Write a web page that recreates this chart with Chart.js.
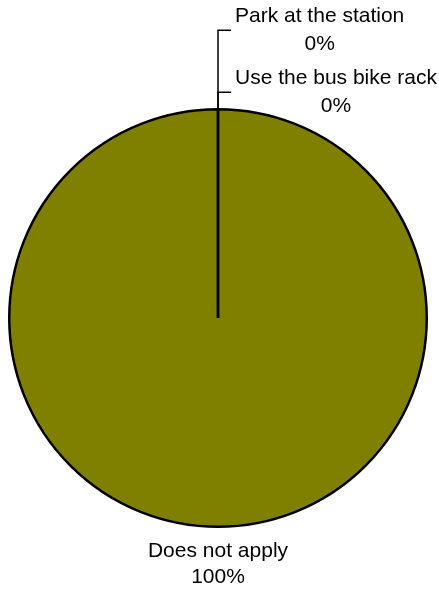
<!DOCTYPE html>
<html>
<head>
<meta charset="utf-8">
<script src="https://cdn.jsdelivr.net/npm/chart.js@4"></script>
<style>
  html, body { margin: 0; padding: 0; background: #fff; }
  #wrap { width: 439px; height: 592px; }
</style>
</head>
<body>
<div id="wrap"><canvas id="myChart" width="439" height="592"></canvas></div>
<script>
// data
var categories = ['Park at the station', 'Use the bus bike rack', 'Does not apply'];
var values = [0, 0, 100];
var pctLabels = ['0%', '0%', '100%'];

var FONT = '21px "Liberation Sans", Arial, sans-serif';

// labels with leader lines, drawn off the arc geometry
var pieLabels = {
  id: 'pieLabels',
  afterDatasetsDraw: function(chart) {
    var ctx = chart.ctx;
    var arcs = chart.getDatasetMeta(0).data;
    var zeros = [];
    arcs.forEach(function(a, i) { if (values[i] === 0) zeros.push(i); });

    ctx.save();
    ctx.font = FONT;
    ctx.fillStyle = '#000';
    ctx.strokeStyle = '#000';
    ctx.lineWidth = 1.5;

    // radial line where the empty slices sit
    if (zeros.length) {
      var a0 = arcs[zeros[0]];
      ctx.beginPath();
      ctx.moveTo(a0.x, a0.y);
      ctx.lineTo(a0.x + a0.outerRadius * Math.cos(a0.startAngle), a0.y + a0.outerRadius * Math.sin(a0.startAngle));
      ctx.lineWidth = 2.5;
      ctx.stroke();
      ctx.lineWidth = 1.5;
    }

    arcs.forEach(function(a, i) {
      var mid = (a.startAngle + a.endAngle) / 2;
      var px = a.x + a.outerRadius * Math.cos(mid);
      var py = a.y + a.outerRadius * Math.sin(mid);
      if (values[i] === 0) {
        var k = zeros.indexOf(i);
        var ly = py - 17 - (zeros.length - 1 - k) * 62;
        ctx.beginPath();
        ctx.moveTo(px, py);
        ctx.lineTo(px, ly);
        ctx.lineTo(px + 13, ly);
        ctx.stroke();
        var w = Math.max(ctx.measureText(categories[i]).width, ctx.measureText(pctLabels[i]).width);
        var cx = px + 17 + w / 2;
        ctx.textAlign = 'center';
        ctx.fillText(categories[i], cx, ly - 8);
        ctx.fillText(pctLabels[i], cx, ly + 20);
      } else {
        ctx.textAlign = 'center';
        ctx.fillText(categories[i], px, py + 30);
        ctx.fillText(pctLabels[i], px, py + 56);
      }
    });
    ctx.restore();
  }
};

var ctx = document.getElementById('myChart').getContext('2d');
var chart = new Chart(ctx, {
  type: 'pie',
  data: {
    labels: categories,
    datasets: [{
      data: values,
      backgroundColor: '#808000',
      borderColor: '#000',
      borderWidth: 2.5
    }]
  },
  options: {
    responsive: false,
    animation: false,
    layout: { padding: { left: 8, right: 11, top: 107, bottom: 63 } },
    plugins: {
      legend: { display: false },
      tooltip: { enabled: false }
    }
  },
  plugins: [pieLabels]
});
</script>
</body>
</html>
